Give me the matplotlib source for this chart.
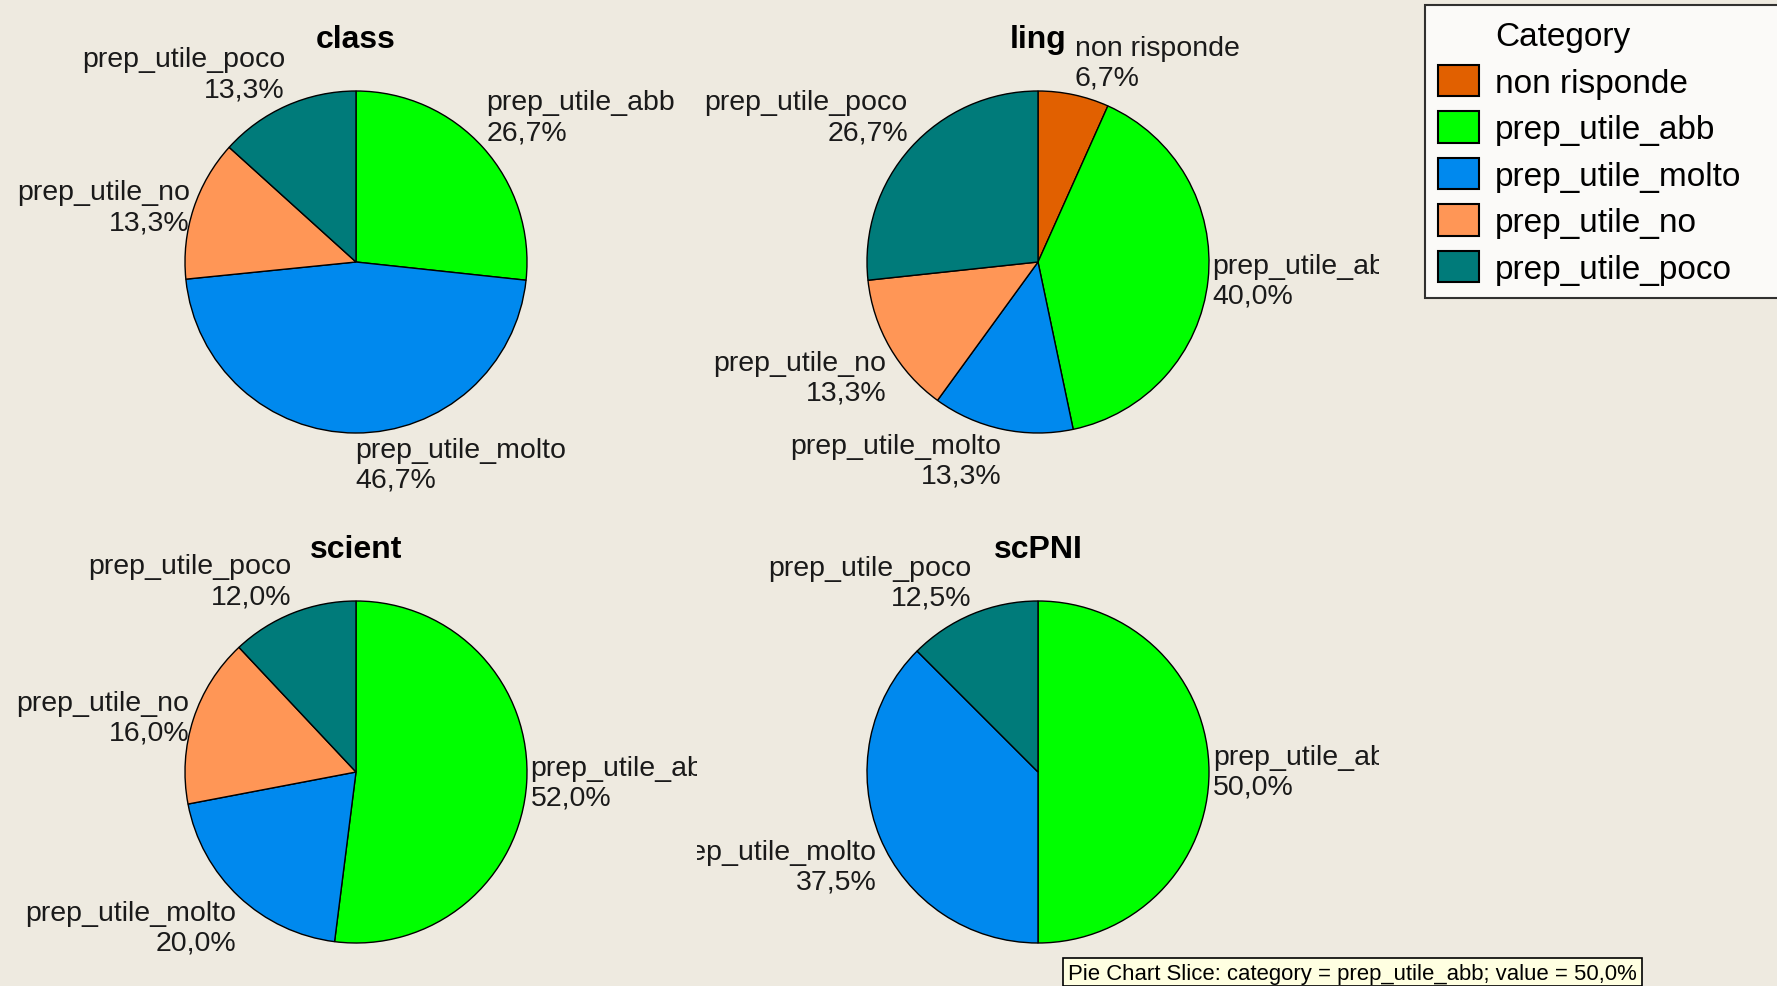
import numpy as np
import matplotlib
matplotlib.use('Agg')
import matplotlib.pyplot as plt
from matplotlib.patches import Patch, Rectangle

plt.rcParams['font.family'] = ['Liberation Sans', 'DejaVu Sans']

# categories and colours (same for every pie)
categories = ['non risponde', 'prep_utile_abb', 'prep_utile_molto', 'prep_utile_no', 'prep_utile_poco']
cat_colors = ['#E16000', '#00FF00', '#0089EE', '#FF9656', '#007B7A']

# percentages
chart_titles = ['class', 'ling', 'scient', 'scPNI']
class_pct = [0, 26.7, 46.7, 13.3, 13.3]
ling_pct = [6.7, 40.0, 13.3, 13.3, 26.7]
scient_pct = [0, 52.0, 20.0, 16.0, 12.0]
scpni_pct = [0, 50.0, 37.5, 0, 12.5]
all_pct = [class_pct, ling_pct, scient_pct, scpni_pct]

tooltip = 'Pie Chart Slice: category = prep_utile_abb; value = 50,0%'

W, H = 1777, 987
bg = '#EEEAE0'
fig = plt.figure(figsize=(W / 100, H / 100), dpi=100, facecolor=bg)

# panel rectangles in pixels (x0, x1, ytop, ybottom) and pie centres
panels = [(17, 697, 0, 505), (697, 1379, 0, 505), (17, 697, 505, 987), (697, 1379, 505, 987)]
centers = [(356, 263), (1038, 263), (356, 773), (1038, 773)]
title_base = [48, 48, 558, 558]
R = 171

for i, pct in enumerate(all_pct):
    x0, x1, yt, yb = panels[i]
    ax = fig.add_axes([x0 / W, 1 - yb / H, (x1 - x0) / W, (yb - yt) / H])
    cx, cy = centers[i][0], H - centers[i][1]

    vals = [v for v in pct if v > 0]
    names = [c for c, v in zip(categories, pct) if v > 0]
    cols = [col for col, v in zip(cat_colors, pct) if v > 0]

    wedges, _ = ax.pie(vals, colors=cols, startangle=90, counterclock=False,
                       center=(cx, cy), radius=R, frame=True,
                       wedgeprops=dict(edgecolor='black', linewidth=1.0))
    ax.set_xlim(x0, x1)
    ax.set_ylim(H - yb, H - yt)
    ax.set_aspect('auto')
    ax.axis('off')

    # labels just outside each slice
    for w, name, v in zip(wedges, names, vals):
        a = np.deg2rad((w.theta1 + w.theta2) / 2)
        lx = cx + (R + 4) * np.cos(a)
        ly = cy + (R + 4) * np.sin(a)
        ha = 'left' if np.cos(a) > -0.05 else 'right'
        s = np.sin(a)
        va = 'bottom' if s > 0.35 else ('top' if s < -0.35 else 'center')
        txt = f'{name}\n{v:.1f}%'.replace('.', ',')
        ax.text(lx, ly, txt, ha=ha, va=va, multialignment=ha, fontsize=20.5,
                color='#1a1a1a', linespacing=1.19, clip_on=True)

    ax.text(cx, H - title_base[i], chart_titles[i], ha='center', va='baseline',
            fontsize=23, fontweight='bold', color='black', clip_on=False)

# legend with "Category" as a header row
handles = [Patch(facecolor='none', edgecolor='none', label='Category')]
handles += [Patch(facecolor=c, edgecolor='black', linewidth=1.5, label=n)
            for c, n in zip(cat_colors, categories)]
leg = fig.legend(handles=handles, loc='upper left',
                 bbox_to_anchor=(1425 / W, 1 - 6 / H, 600 / W, 0.0), mode='expand',
                 fontsize=24, frameon=True, fancybox=False, shadow=False,
                 handlelength=1.23, handleheight=1.08, handletextpad=0.48,
                 labelspacing=0.37, borderpad=0.4, borderaxespad=0)
leg.get_frame().set_edgecolor('black')
leg.get_frame().set_linewidth(1.5)
leg.get_frame().set_facecolor('white')

# tooltip box at the bottom
fig.patches.append(Rectangle((1063 / W, 0), (1642 - 1063) / W, (H - 959) / H,
                             transform=fig.transFigure, facecolor='#FFFFE1',
                             edgecolor='black', linewidth=1.2))
fig.text(1068 / W, 1 - 975 / H, tooltip, ha='left', va='center', fontsize=15.9, color='black')

fig.savefig('out.png', dpi=100, facecolor=fig.get_facecolor())
